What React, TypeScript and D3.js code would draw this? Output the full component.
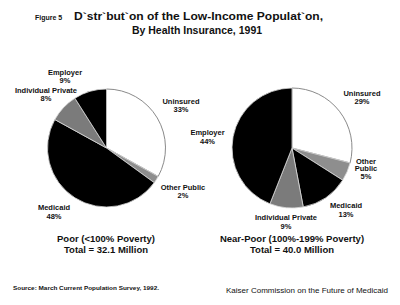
import React from 'react';
import * as d3 from 'd3';

interface Slice {
  name: string;
  value: number;
  fill: string;
}

// Poor (<100% poverty), clockwise from 12 o'clock
const poorNames = ['Uninsured', 'Other Public', 'Medicaid', 'Individual Private', 'Employer'];
const poorValues = [33, 2, 48, 8, 9];

// Near-poor (100%-199% poverty), same order
const nearPoorNames = ['Uninsured', 'Other Public', 'Medicaid', 'Individual Private', 'Employer'];
const nearPoorValues = [29, 5, 13, 9, 44];

const fills: Record<string, string> = {
  Uninsured: '#ffffff',
  'Other Public': '#8e8e8e',
  Medicaid: '#000000',
  'Individual Private': '#7b7b7b',
  Employer: '#000000',
};

const FONT = '"Liberation Sans", Arial, Helvetica, sans-serif';

const toSlices = (names: string[], values: number[]): Slice[] =>
  names.map((name, i) => ({ name, value: values[i], fill: fills[name] }));

interface PieProps {
  cx: number;
  cy: number;
  r: number;
  data: Slice[];
}

const Pie: React.FC<PieProps> = ({ cx, cy, r, data }) => {
  const arcs = d3.pie<Slice>().sort(null).value(d => d.value)(data);
  const arc = d3.arc<d3.PieArcDatum<Slice>>().innerRadius(0).outerRadius(r);
  return (
    <g transform={`translate(${cx},${cy})`}>
      {arcs.map(a => (
        <path
          key={a.data.name}
          d={arc(a) || ''}
          fill={a.data.fill}
          stroke={a.data.fill === '#ffffff' ? '#8a8a8a' : '#d8d8d8'}
          strokeWidth={a.data.fill === '#ffffff' ? 1 : 0.8}
        />
      ))}
    </g>
  );
};

interface LabelProps {
  x: number;
  y: number;
  lines: string[];
  size?: number;
  gap?: number;
}

const Label: React.FC<LabelProps> = ({ x, y, lines, size = 7.5, gap = 8.5 }) => (
  <text x={x} y={y} textAnchor="middle" fontFamily={FONT} fontWeight="bold" fontSize={size} fill="#111">
    {lines.map((l, i) => (
      <tspan key={i} x={x} dy={i === 0 ? 0 : gap}>{l}</tspan>
    ))}
  </text>
);

const pct = (v: number) => `${v}%`;

export default function App() {
  const poor = toSlices(poorNames, poorValues);
  const nearPoor = toSlices(nearPoorNames, nearPoorValues);
  const pv = (n: string) => pct(poorValues[poorNames.indexOf(n)]);
  const nv = (n: string) => pct(nearPoorValues[nearPoorNames.indexOf(n)]);

  return (
    <svg width={400} height={305} style={{ position: 'absolute', left: 0, top: 0, background: '#fff' }}>
      {/* title */}
      <text x={35} y={20} fontFamily={FONT} fontWeight="bold" fontSize={7} fill="#111">Figure 5</text>
      <text x={74} y={20} fontFamily={FONT} fontWeight="bold" fontSize={10.5} fill="#111"
        textLength={249} lengthAdjust="spacingAndGlyphs">
        D`str`but`on of the Low-Income Populat`on,
      </text>
      <text x={197} y={33.5} textAnchor="middle" fontFamily={FONT} fontWeight="bold" fontSize={10.5} fill="#111">
        By Health Insurance, 1991
      </text>

      <Pie cx={106.5} cy={148} r={59} data={poor} />
      <Pie cx={292} cy={148} r={60} data={nearPoor} />

      {/* poor labels */}
      <Label x={65} y={74.5} lines={['Employer', pv('Employer')]} />
      <Label x={46} y={92.5} lines={['Individual Private', pv('Individual Private')]} />
      <Label x={181} y={103.5} lines={['Uninsured', pv('Uninsured')]} />
      <Label x={183} y={189.5} lines={['Other Public', pv('Other Public')]} />
      <Label x={54} y={210} lines={['Medicaid', pv('Medicaid')]} />

      {/* near-poor labels */}
      <Label x={362} y={95.5} lines={['Uninsured', nv('Uninsured')]} />
      <Label x={207.5} y={135} lines={['Employer', nv('Employer')]} />
      <Label x={366} y={163.5} lines={['Other', 'Public', nv('Other Public')]} gap={7.5} />
      <Label x={346} y={208} lines={['Medicaid', nv('Medicaid')]} />
      <Label x={286} y={220} lines={['Individual Private', nv('Individual Private')]} />

      {/* totals */}
      <Label x={106} y={242} lines={['Poor (<100% Poverty)', 'Total = 32.1 Million']} size={9.5} gap={10.5} />
      <Label x={292} y={242} lines={['Near-Poor (100%-199% Poverty)', 'Total = 40.0 Million']} size={9.5} gap={10.5} />

      {/* footer */}
      <text x={13} y={290} fontFamily={FONT} fontWeight="bold" fontSize={6} fill="#111"
        textLength={146} lengthAdjust="spacingAndGlyphs">
        Source:  March Current Population Survey, 1992.
      </text>
      <text x={226} y={292.5} fontFamily={FONT} fontSize={7.8} fill="#111"
        textLength={162} lengthAdjust="spacingAndGlyphs">
        Kaiser Commission on the Future of Medicaid
      </text>
    </svg>
  );
}
